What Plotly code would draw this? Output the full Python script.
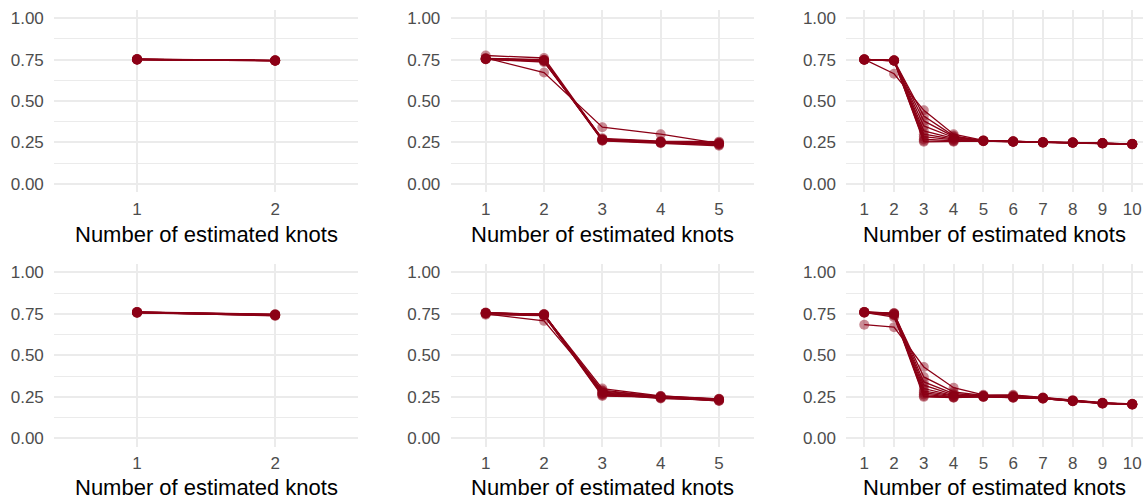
import plotly.graph_objects as go

knots_2 = [1, 2]
knots_5 = [1, 2, 3, 4, 5]
knots_10 = [1, 2, 3, 4, 5, 6, 7, 8, 9, 10]

top_k2_runs = [
    [0.752, 0.745], [0.751, 0.744], [0.753, 0.746], [0.750, 0.743], [0.752, 0.745],
    [0.751, 0.744], [0.752, 0.746], [0.750, 0.745], [0.753, 0.744], [0.751, 0.743],
]
top_k5_runs = [
    [0.775, 0.760, 0.270, 0.255, 0.245],
    [0.760, 0.672, 0.342, 0.300, 0.245],
    [0.755, 0.745, 0.265, 0.250, 0.240],
    [0.753, 0.740, 0.262, 0.248, 0.235],
    [0.756, 0.748, 0.268, 0.252, 0.250],
    [0.752, 0.735, 0.275, 0.258, 0.255],
    [0.754, 0.744, 0.260, 0.245, 0.230],
    [0.757, 0.750, 0.266, 0.251, 0.242],
    [0.753, 0.742, 0.270, 0.254, 0.238],
    [0.755, 0.746, 0.263, 0.249, 0.245],
]
top_k10_runs = [
    [0.752, 0.665, 0.444, 0.300, 0.262, 0.256, 0.251, 0.249, 0.246, 0.241],
    [0.750, 0.745, 0.410, 0.290, 0.260, 0.255, 0.250, 0.250, 0.245, 0.240],
    [0.751, 0.746, 0.380, 0.285, 0.261, 0.257, 0.252, 0.249, 0.244, 0.239],
    [0.749, 0.744, 0.350, 0.280, 0.259, 0.255, 0.250, 0.248, 0.246, 0.242],
    [0.752, 0.745, 0.320, 0.275, 0.262, 0.256, 0.251, 0.250, 0.245, 0.240],
    [0.750, 0.743, 0.300, 0.270, 0.258, 0.254, 0.249, 0.249, 0.244, 0.238],
    [0.751, 0.746, 0.285, 0.265, 0.260, 0.256, 0.251, 0.250, 0.246, 0.241],
    [0.749, 0.744, 0.270, 0.260, 0.259, 0.255, 0.250, 0.248, 0.245, 0.240],
    [0.752, 0.745, 0.260, 0.258, 0.261, 0.257, 0.252, 0.249, 0.244, 0.239],
    [0.750, 0.743, 0.254, 0.255, 0.258, 0.254, 0.249, 0.248, 0.245, 0.241],
]
bottom_k2_runs = [
    [0.760, 0.745], [0.758, 0.740], [0.762, 0.748], [0.757, 0.742], [0.760, 0.746],
    [0.759, 0.738], [0.761, 0.744], [0.756, 0.741], [0.760, 0.747], [0.758, 0.743],
]
bottom_k5_runs = [
    [0.755, 0.745, 0.300, 0.255, 0.235],
    [0.750, 0.708, 0.290, 0.250, 0.225],
    [0.757, 0.748, 0.280, 0.245, 0.236],
    [0.745, 0.740, 0.270, 0.240, 0.230],
    [0.756, 0.746, 0.265, 0.255, 0.238],
    [0.752, 0.742, 0.255, 0.248, 0.228],
    [0.754, 0.747, 0.275, 0.242, 0.232],
    [0.758, 0.744, 0.285, 0.252, 0.234],
    [0.753, 0.741, 0.260, 0.246, 0.226],
    [0.756, 0.749, 0.268, 0.250, 0.237],
]
bottom_k10_runs = [
    [0.685, 0.670, 0.430, 0.305, 0.262, 0.258, 0.245, 0.228, 0.213, 0.205],
    [0.760, 0.750, 0.370, 0.280, 0.258, 0.262, 0.246, 0.230, 0.215, 0.208],
    [0.762, 0.755, 0.340, 0.270, 0.255, 0.255, 0.244, 0.226, 0.212, 0.206],
    [0.758, 0.745, 0.320, 0.262, 0.252, 0.250, 0.242, 0.225, 0.210, 0.204],
    [0.761, 0.752, 0.300, 0.258, 0.250, 0.248, 0.240, 0.224, 0.211, 0.207],
    [0.759, 0.730, 0.285, 0.255, 0.256, 0.252, 0.243, 0.227, 0.214, 0.205],
    [0.760, 0.748, 0.275, 0.250, 0.253, 0.246, 0.241, 0.223, 0.209, 0.203],
    [0.757, 0.744, 0.265, 0.248, 0.251, 0.244, 0.239, 0.225, 0.212, 0.206],
    [0.762, 0.753, 0.255, 0.246, 0.254, 0.249, 0.242, 0.226, 0.210, 0.204],
    [0.758, 0.740, 0.250, 0.245, 0.250, 0.245, 0.240, 0.224, 0.211, 0.205],
]

y_ticks = [0, 0.25, 0.5, 0.75, 1.0]
x_title = "Number of estimated knots"

LINE = "rgb(139,0,22)"
POINT = "rgba(139,0,22,0.45)"
GRID = "#EBEBEB"
FONT = "Liberation Sans, Arial, sans-serif"

W, H = 1143, 500
# panel pixel boxes: (left, right, xmax) and (top, bottom)
cols = [(54.2, 358.0, 2.6), (450.7, 754.0, 5.6), (846.4, 1143.0, 10.36)]
rows = [(9.0, 192.3), (264.7, 448.3)]

panels = [
    (0, 0, knots_2, top_k2_runs),
    (0, 1, knots_5, top_k5_runs),
    (0, 2, knots_10, top_k10_runs),
    (1, 0, knots_2, bottom_k2_runs),
    (1, 1, knots_5, bottom_k5_runs),
    (1, 2, knots_10, bottom_k10_runs),
]

fig = go.Figure()
layout = {}
annotations = []
for i, (r, c, xs, runs) in enumerate(panels):
    n = i + 1
    xa = "x" if n == 1 else f"x{n}"
    ya = "y" if n == 1 else f"y{n}"
    for run in runs:
        fig.add_trace(go.Scatter(
            x=xs, y=run, xaxis=xa, yaxis=ya, mode="lines+markers",
            line=dict(color=LINE, width=1.3),
            marker=dict(color=POINT, size=10, line=dict(width=0)),
            showlegend=False, hoverinfo="x+y",
        ))
    l, rt, xmax = cols[c]
    t, b = rows[r]
    layout["xaxis" if n == 1 else f"xaxis{n}"] = dict(
        domain=[l / W, rt / W], anchor=ya, range=[0.4, xmax],
        tickmode="array", tickvals=xs, ticktext=[str(v) for v in xs],
        showgrid=True, gridcolor=GRID, gridwidth=2, zeroline=False,
        showline=False, ticks="outside", ticklen=1, tickcolor="rgba(0,0,0,0)",
        tickfont=dict(family=FONT, size=17, color="#4D4D4D"),
        fixedrange=True,
    )
    layout["yaxis" if n == 1 else f"yaxis{n}"] = dict(
        domain=[(H - b) / H, (H - t) / H], anchor=xa, range=[-0.05, 1.05],
        tickmode="array", tickvals=y_ticks, ticktext=[f"{v:.2f}" for v in y_ticks],
        showgrid=True, gridcolor=GRID, gridwidth=2, zeroline=False,
        minor=dict(tickmode="array", tickvals=[0.125, 0.375, 0.625, 0.875],
                   showgrid=True, gridcolor=GRID, gridwidth=1, ticks=""),
        showline=False, ticks="outside", ticklen=6, tickcolor="rgba(0,0,0,0)",
        tickfont=dict(family=FONT, size=17, color="#4D4D4D"),
        fixedrange=True,
    )
    title_y = 235 if r == 0 else 489
    annotations.append(dict(
        text=x_title, x=(l + rt) / 2 / W, y=(H - title_y) / H,
        xref="paper", yref="paper", xanchor="center", yanchor="middle",
        showarrow=False, font=dict(family=FONT, size=22, color="black"),
    ))

fig.update_layout(
    width=W, height=H, margin=dict(l=0, r=0, t=0, b=0),
    paper_bgcolor="white", plot_bgcolor="white",
    annotations=annotations, **layout,
)
fig.write_html(
    "out.html",
    config={"displayModeBar": False},
    post_script="document.body.style.margin='0';document.body.style.overflow='hidden';",
)
